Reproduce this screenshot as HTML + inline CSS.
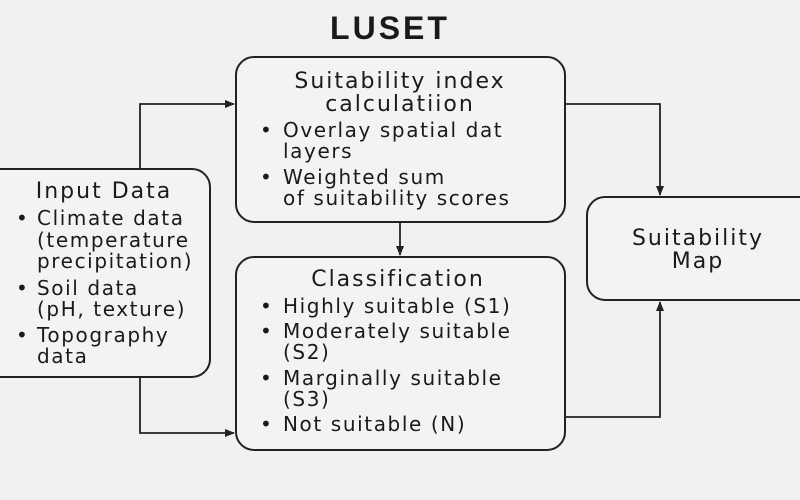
<!DOCTYPE html>
<html><head><style>
html,body{margin:0;padding:0;background:#f1f1ef;}
svg{display:block}
text{font-family:"DejaVu Sans","Liberation Sans",sans-serif;fill:#1a1a1a}
</style></head><body>
<svg width="800" height="500" viewBox="0 0 800 500" xmlns="http://www.w3.org/2000/svg">
<defs><marker id="a" markerWidth="10" markerHeight="10" refX="9" refY="5" orient="auto" markerUnits="userSpaceOnUse"><path d="M0,1 L10,5 L0,9 Z" fill="#222"/></marker></defs>
<rect width="800" height="500" fill="#f1f1ef"/>
<text x="390" y="39" font-size="32" font-weight="bold" text-anchor="middle" letter-spacing="3" style="font-family:'Liberation Sans',sans-serif">LUSET</text>
<g fill="#f3f3f1" stroke="#222" stroke-width="2">
<rect x="-20" y="169" width="230" height="208" rx="18"/>
<rect x="236" y="57" width="329" height="165" rx="18"/>
<rect x="236" y="257" width="329" height="193" rx="18"/>
<rect x="587" y="197" width="240" height="103" rx="18"/>
</g>
<g stroke="#222" stroke-width="1.8" fill="none" marker-end="url(#a)">
<path d="M140 169 V104 H234"/>
<path d="M140 377 V433 H234"/>
<path d="M565 104 H660 V195"/>
<path d="M565 417 H660 V302"/>
<path d="M400 222 V255"/>
</g>
<g font-size="20" letter-spacing="1.6">
<text x="104" y="198" text-anchor="middle" font-size="22" letter-spacing="2">Input Data</text>
<text x="16" y="225">•</text><text x="37" y="225">Climate data</text>
<text x="37" y="247">(temperature</text>
<text x="37" y="268">precipitation)</text>
<text x="16" y="295">•</text><text x="37" y="295">Soil data</text>
<text x="37" y="316">(pH, texture)</text>
<text x="16" y="342">•</text><text x="37" y="342">Topography</text>
<text x="37" y="363">data</text>

<text x="400" y="88" text-anchor="middle" font-size="22" letter-spacing="2">Suitability index</text>
<text x="400" y="111" text-anchor="middle" font-size="22" letter-spacing="2">calculatiion</text>
<text x="260" y="137">•</text><text x="283" y="137">Overlay spatial dat</text>
<text x="283" y="158">layers</text>
<text x="260" y="184">•</text><text x="283" y="184">Weighted sum</text>
<text x="283" y="205">of suitability scores</text>

<text x="398" y="286" text-anchor="middle" font-size="22" letter-spacing="2">Classification</text>
<text x="260" y="313">•</text><text x="283" y="313">Highly suitable (S1)</text>
<text x="260" y="338">•</text><text x="283" y="338">Moderately suitable</text>
<text x="283" y="359">(S2)</text>
<text x="260" y="385">•</text><text x="283" y="385">Marginally suitable</text>
<text x="283" y="406">(S3)</text>
<text x="260" y="431">•</text><text x="283" y="431">Not suitable (N)</text>

<text x="698" y="245" text-anchor="middle" font-size="22" letter-spacing="2">Suitability</text>
<text x="698" y="268" text-anchor="middle" font-size="22" letter-spacing="2">Map</text>
</g>
</svg>
</body></html>
